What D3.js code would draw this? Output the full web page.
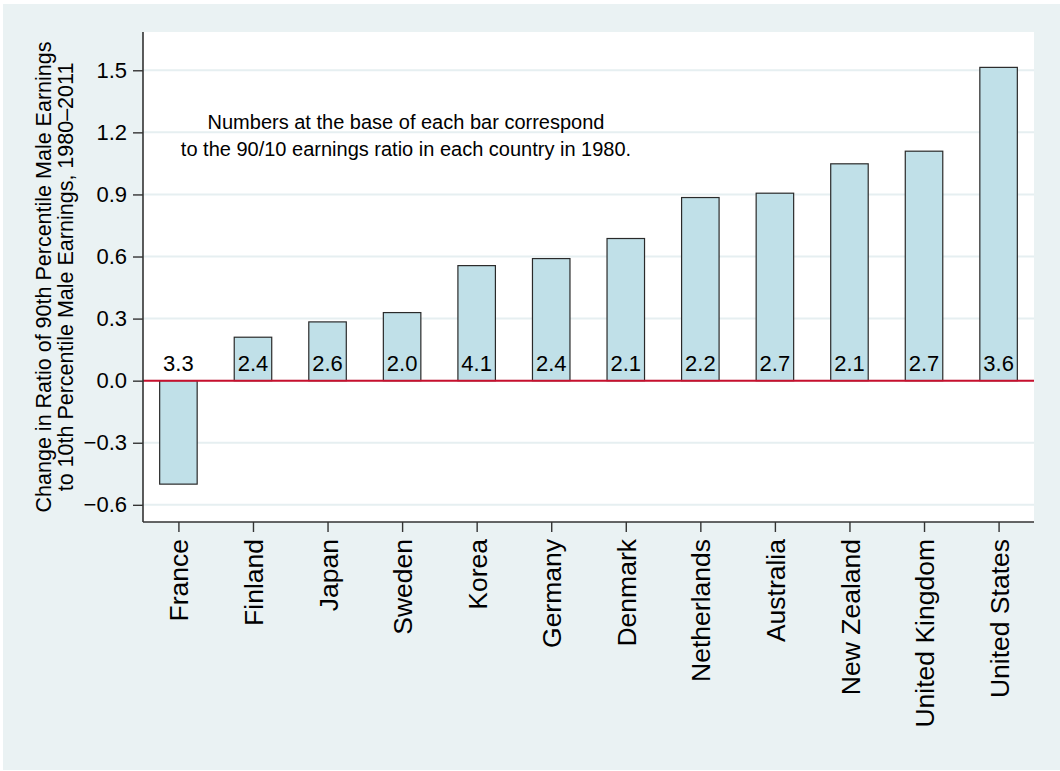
<!DOCTYPE html>
<html>
<head>
<meta charset="utf-8">
<script src="https://cdn.jsdelivr.net/npm/d3@7"></script>
<style>
	body { margin: 0; background: #fff; }
	text { font-family: "Liberation Sans", Arial, sans-serif; fill: #000; }
</style>
</head>
<body>
<div id="chart"></div>
<script>
var countries = ["France", "Finland", "Japan", "Sweden", "Korea", "Germany", "Denmark",
	"Netherlands", "Australia", "New Zealand", "United Kingdom", "United States"];
// change in 90/10 ratio, 1980-2011
var changes = [-0.50, 0.21, 0.284, 0.329, 0.556, 0.59, 0.687, 0.885, 0.906, 1.048, 1.109, 1.514];
// 90/10 ratio in 1980 (printed at the base of each bar)
var ratio1980 = ["3.3", "2.4", "2.6", "2.0", "4.1", "2.4", "2.1", "2.2", "2.7", "2.1", "2.7", "3.6"];
var yTicks = [-0.6, -0.3, 0, 0.3, 0.6, 0.9, 1.2, 1.5];

(function(){
	var width = 1060,
		height = 771;

	var svg = d3.select("#chart")
		.append("svg")
		.attr("width", width)
		.attr("height", height)

	// outer graph region
	svg.append("rect")
		.attr("x", 3).attr("y", 4)
		.attr("width", width - 3).attr("height", height - 5)
		.attr("fill", "#eaf2f3")

	var left = 143, right = 1034, top = 32, bottom = 522;

	svg.append("rect")
		.attr("x", left).attr("y", top)
		.attr("width", right - left).attr("height", bottom - top)
		.attr("fill", "#fff")

	var x = d3.scalePoint().domain(countries).range([left, right]).padding(0.475)
	var y = d3.scaleLinear().domain([-0.683, 1.685]).range([bottom, top])

	var data = countries.map(function(c, i){
		return {name: c, value: changes[i], label: ratio1980[i]};
	})

	// gridlines
	svg.selectAll(".grid")
		.data(yTicks)
		.enter().append("line")
		.attr("class", "grid")
		.attr("x1", left).attr("x2", right)
		.attr("y1", function(d){ return y(d) })
		.attr("y2", function(d){ return y(d) })
		.attr("stroke", "#e6eff1")
		.attr("stroke-width", 2)

	var barW = 37.5;
	svg.selectAll(".bar")
		.data(data)
		.enter().append("rect")
		.attr("class", "bar")
		.attr("x", function(d){ return x(d.name) - barW/2 })
		.attr("y", function(d){ return y(Math.max(0, d.value)) })
		.attr("width", barW)
		.attr("height", function(d){ return Math.abs(y(d.value) - y(0)) })
		.attr("fill", "#c0e0e8")
		.attr("stroke", "#2a2a2a")
		.attr("stroke-width", 1.2)

	// zero line
	svg.append("line")
		.attr("x1", left).attr("x2", right)
		.attr("y1", y(0)).attr("y2", y(0))
		.attr("stroke", "#c8102e")
		.attr("stroke-width", 2)

	svg.selectAll(".lbl")
		.data(data)
		.enter().append("text")
		.attr("class", "lbl")
		.attr("x", function(d){ return x(d.name) })
		.attr("y", y(0) - 10)
		.attr("text-anchor", "middle")
		.style("font-size", "22px")
		.text(function(d){ return d.label })

	// axes
	var yAxis = svg.append("g")
		.attr("transform", "translate(" + left + ",0)")
		.call(d3.axisLeft(y).tickValues(yTicks).tickSize(10).tickPadding(6)
			.tickFormat(function(d){ return d3.format(".1f")(d).replace("-", "\u2212") }))
	yAxis.select(".domain").attr("stroke", "#333").attr("stroke-width", 1.6)
		.attr("d", "M0," + top + "V" + bottom)
	yAxis.selectAll(".tick line").attr("stroke", "#333").attr("stroke-width", 1.4)
	yAxis.selectAll(".tick text").style("font-size", "22px").attr("fill", "#000")
		.style("font-family", "'Liberation Sans', Arial, sans-serif")

	var xAxis = svg.append("g")
		.attr("transform", "translate(0," + bottom + ")")
		.call(d3.axisBottom(x).tickSize(10))
	xAxis.select(".domain").attr("stroke", "#333").attr("stroke-width", 1.6)
		.attr("d", "M" + left + ",0H" + right)
	xAxis.selectAll(".tick line").attr("stroke", "#333").attr("stroke-width", 1.4)
	xAxis.selectAll(".tick text")
		.attr("transform", "translate(0,17) rotate(-90)")
		.attr("x", 0).attr("y", 0).attr("dy", "0.36em")
		.attr("text-anchor", "end")
		.attr("fill", "#000")
		.style("font-size", "26.5px")
		.style("font-family", "'Liberation Sans', Arial, sans-serif")

	// y title
	var yt = svg.append("text")
		.attr("transform", "translate(51," + (top + bottom)/2 + ") rotate(-90)")
		.attr("text-anchor", "middle")
		.style("font-size", "21.5px")
	yt.append("tspan").attr("x", 0).attr("y", 0)
		.text("Change in Ratio of 90th Percentile Male Earnings")
	yt.append("tspan").attr("x", 0).attr("dy", 22)
		.text("to 10th Percentile Male Earnings, 1980\u20132011")

	// note
	var note = svg.append("text")
		.attr("text-anchor", "middle")
		.style("font-size", "20px")
	note.append("tspan").attr("x", 406).attr("y", 129)
		.text("Numbers at the base of each bar correspond")
	note.append("tspan").attr("x", 406).attr("y", 156)
		.text("to the 90/10 earnings ratio in each country in 1980.")
})();
</script>
</body>
</html>
